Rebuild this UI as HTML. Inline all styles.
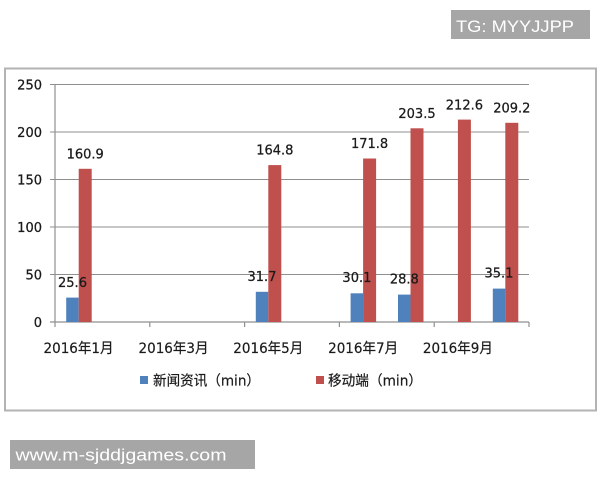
<!DOCTYPE html>
<html>
<head>
<meta charset="utf-8">
<style>
  html, body { margin: 0; padding: 0; background: #ffffff; }
  svg { display: block; }
  .num { font-family: "DejaVu Sans", "Liberation Sans", sans-serif; font-size: 13px; fill: #1a1a1a; stroke: #1a1a1a; stroke-width: 0.25px; }
  .cjk { font-family: "DejaVu Sans", "Noto Sans CJK SC", sans-serif; font-size: 14px; fill: #1a1a1a; stroke: #1a1a1a; stroke-width: 0.2px; }
  .wm { font-family: "Liberation Sans", sans-serif; fill: #ffffff; }
</style>
</head>
<body>
<svg width="600" height="480" viewBox="0 0 600 480" xmlns="http://www.w3.org/2000/svg">
  <rect x="0" y="0" width="600" height="480" fill="#ffffff"/>

  <!-- TG watermark -->
  <rect x="451" y="10" width="139" height="29" fill="#a6a6a6"/>
  <text class="wm" x="456" y="32" font-size="17" textLength="118" lengthAdjust="spacingAndGlyphs">TG: MYYJJPP</text>

  <!-- Chart frame -->
  <rect x="5" y="68.5" width="591" height="342" fill="#ffffff" stroke="#b3b3b3" stroke-width="2"/>

  <!-- gridlines -->
  <g stroke="#8f8f8f" stroke-width="1">
    <line x1="50" y1="84.5" x2="529" y2="84.5"/>
    <line x1="50" y1="132" x2="529" y2="132"/>
    <line x1="50" y1="179.5" x2="529" y2="179.5"/>
    <line x1="50" y1="227" x2="529" y2="227"/>
    <line x1="50" y1="274.5" x2="529" y2="274.5"/>
  </g>
  <!-- axes -->
  <g stroke="#8f8f8f" stroke-width="1.2">
    <line x1="55" y1="84" x2="55" y2="322"/>
    <line x1="50" y1="322" x2="529" y2="322"/>
    <line x1="55" y1="322" x2="55" y2="327"/>
    <line x1="149.8" y1="322" x2="149.8" y2="327"/>
    <line x1="244.6" y1="322" x2="244.6" y2="327"/>
    <line x1="339.4" y1="322" x2="339.4" y2="327"/>
    <line x1="434.2" y1="322" x2="434.2" y2="327"/>
    <line x1="529" y1="322" x2="529" y2="327"/>
  </g>

  <!-- y labels -->
  <g class="num" text-anchor="end">
    <text x="42" y="89.5">250</text>
    <text x="42" y="137">200</text>
    <text x="42" y="184.5">150</text>
    <text x="42" y="232">100</text>
    <text x="42" y="279.5">50</text>
    <text x="42" y="327">0</text>
  </g>

  <!-- bars: blue -->
  <g fill="#4f81bd">
    <rect x="66.2" y="297.6" width="12.5" height="24.4"/>
    <rect x="255.8" y="291.8" width="12.5" height="30.2"/>
    <rect x="350.6" y="293.3" width="12.5" height="28.7"/>
    <rect x="398" y="294.6" width="12.5" height="27.4"/>
    <rect x="492.8" y="288.6" width="12.5" height="33.4"/>
  </g>
  <!-- bars: red -->
  <g fill="#c0504d">
    <rect x="78.7" y="168.8" width="13" height="153.2"/>
    <rect x="268.3" y="165.1" width="13" height="156.9"/>
    <rect x="363.1" y="158.5" width="13" height="163.5"/>
    <rect x="410.5" y="128.3" width="13" height="193.7"/>
    <rect x="457.9" y="119.6" width="13" height="202.4"/>
    <rect x="505.3" y="122.8" width="13" height="199.2"/>
  </g>

  <!-- data labels -->
  <g class="num" text-anchor="middle">
    <text x="85.2" y="158.5">160.9</text>
    <text x="274.8" y="154.6">164.8</text>
    <text x="369.6" y="148">171.8</text>
    <text x="417" y="117.8">203.5</text>
    <text x="464.4" y="109.4">212.6</text>
    <text x="511.8" y="112.3">209.2</text>

    <text x="72.5" y="286.8">25.6</text>
    <text x="262" y="281">31.7</text>
    <text x="356.9" y="282">30.1</text>
    <text x="404.3" y="283.6">28.8</text>
    <text x="499" y="277.6">35.1</text>
  </g>

  <!-- x labels -->
  <g class="cjk">
    <text x="43.5" y="353" textLength="70" lengthAdjust="spacingAndGlyphs">2016年1月</text>
    <text x="138.5" y="353" textLength="70" lengthAdjust="spacingAndGlyphs">2016年3月</text>
    <text x="233.3" y="353" textLength="70" lengthAdjust="spacingAndGlyphs">2016年5月</text>
    <text x="328.1" y="353" textLength="70" lengthAdjust="spacingAndGlyphs">2016年7月</text>
    <text x="422.9" y="353" textLength="70" lengthAdjust="spacingAndGlyphs">2016年9月</text>
  </g>

  <!-- legend -->
  <rect x="140" y="376" width="8" height="8" fill="#4f81bd"/>
  <text class="cjk" x="153" y="385.5" textLength="107" lengthAdjust="spacingAndGlyphs">新闻资讯（min）</text>
  <rect x="316" y="376" width="8" height="8" fill="#c0504d"/>
  <text class="cjk" x="328" y="385.5" textLength="94" lengthAdjust="spacingAndGlyphs">移动端（min）</text>

  <!-- bottom watermark -->
  <rect x="10" y="440" width="245" height="29" fill="#a6a6a6"/>
  <text class="wm" x="15.5" y="460.5" font-size="17" textLength="211" lengthAdjust="spacingAndGlyphs">www.m-sjddjgames.com</text>
</svg>
</body>
</html>
